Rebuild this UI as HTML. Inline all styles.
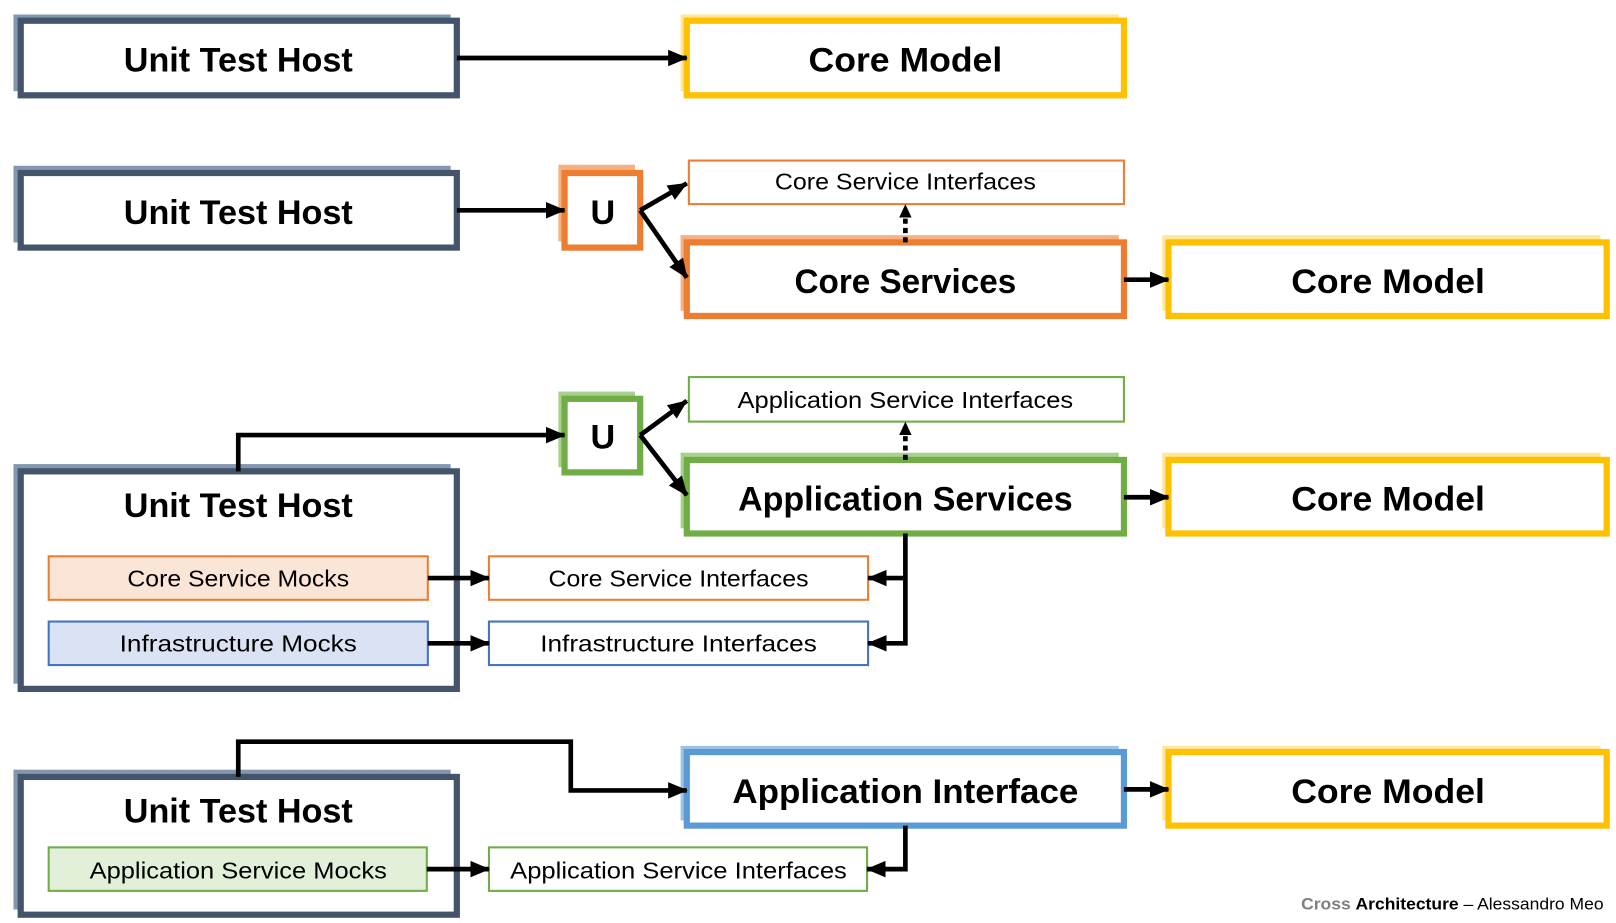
<!DOCTYPE html>
<html><head><meta charset="utf-8"><style>
html,body{margin:0;padding:0;background:#fff;}
svg{display:block;}
.b{font-family:"Liberation Sans",sans-serif;font-weight:bold;font-size:33px;fill:#000;}
.s{font-family:"Liberation Sans",sans-serif;font-size:22px;fill:#000;}
</style></head><body>
<svg width="1616" height="923" viewBox="0 0 1560 891" xmlns="http://www.w3.org/2000/svg">
<defs>
<marker id="a" markerUnits="userSpaceOnUse" markerWidth="20" markerHeight="20" refX="18" refY="10" orient="auto"><path d="M0,2 L19,10 L0,18 Z" fill="#000"/></marker>
<marker id="d" markerUnits="userSpaceOnUse" markerWidth="14" markerHeight="14" refX="12" refY="7" orient="auto"><path d="M0,1 L13,7 L0,13 Z" fill="#000"/></marker>
</defs>
<g fill="none">
<rect x="13" y="14" width="422" height="74" fill="#8497B0"/>
<rect x="20" y="20" width="421" height="72" fill="#fff" stroke="#44546A" stroke-width="6"/>
<rect x="657" y="14" width="423" height="74" fill="#FFE699"/>
<rect x="663" y="20" width="422" height="72" fill="#fff" stroke="#FFC000" stroke-width="6"/>
<rect x="13" y="160" width="422" height="74" fill="#8497B0"/>
<rect x="20" y="167" width="421" height="72" fill="#fff" stroke="#44546A" stroke-width="6"/>
<rect x="539" y="159" width="74" height="74" fill="#F4B183"/>
<rect x="545" y="167" width="73" height="72" fill="#fff" stroke="#ED7D31" stroke-width="6"/>
<rect x="665" y="155" width="420" height="42" fill="#fff" stroke="#ED7D31" stroke-width="2"/>
<rect x="657" y="227" width="423" height="73" fill="#F4B183"/>
<rect x="663" y="234" width="422" height="71" fill="#fff" stroke="#ED7D31" stroke-width="6"/>
<rect x="1122" y="227" width="423" height="73" fill="#FFE699"/>
<rect x="1128" y="234" width="423" height="71" fill="#fff" stroke="#FFC000" stroke-width="6"/>
<rect x="539" y="378" width="74" height="73" fill="#A9D18E"/>
<rect x="545" y="385" width="73" height="71" fill="#fff" stroke="#70AD47" stroke-width="6"/>
<rect x="665" y="364" width="420" height="43" fill="#fff" stroke="#70AD47" stroke-width="2"/>
<rect x="657" y="437" width="423" height="73" fill="#A9D18E"/>
<rect x="663" y="444" width="422" height="71" fill="#fff" stroke="#70AD47" stroke-width="6"/>
<rect x="1122" y="437" width="423" height="73" fill="#FFE699"/>
<rect x="1128" y="444" width="423" height="71" fill="#fff" stroke="#FFC000" stroke-width="6"/>
<rect x="13" y="448" width="422" height="212" fill="#8497B0"/>
<rect x="20" y="455" width="421" height="210" fill="#fff" stroke="#44546A" stroke-width="6"/>
<rect x="47" y="537" width="366" height="42" fill="#FBE5D6" stroke="#ED7D31" stroke-width="2"/>
<rect x="47" y="600" width="366" height="42" fill="#DAE3F3" stroke="#4472C4" stroke-width="2"/>
<rect x="472" y="537" width="366" height="42" fill="#fff" stroke="#ED7D31" stroke-width="2"/>
<rect x="472" y="600" width="366" height="42" fill="#fff" stroke="#4472C4" stroke-width="2"/>
<rect x="13" y="743" width="422" height="135" fill="#8497B0"/>
<rect x="20" y="750" width="421" height="133" fill="#fff" stroke="#44546A" stroke-width="6"/>
<rect x="47" y="818" width="365" height="42" fill="#E2F0D9" stroke="#70AD47" stroke-width="2"/>
<rect x="472" y="818" width="365" height="42" fill="#fff" stroke="#70AD47" stroke-width="2"/>
<rect x="657" y="720" width="423" height="72" fill="#9DC3E6"/>
<rect x="663" y="726" width="422" height="71" fill="#fff" stroke="#5B9BD5" stroke-width="6"/>
<rect x="1122" y="720" width="423" height="72" fill="#FFE699"/>
<rect x="1128" y="726" width="423" height="71" fill="#fff" stroke="#FFC000" stroke-width="6"/>
</g>
<g stroke="#000" stroke-width="4.5" fill="none">
<line x1="441" y1="56" x2="663" y2="56" marker-end="url(#a)"/>
<line x1="441" y1="203" x2="545" y2="203" marker-end="url(#a)"/>
<line x1="618" y1="203" x2="663" y2="268" marker-end="url(#a)"/>
<line x1="618" y1="203" x2="663" y2="177" marker-end="url(#a)"/>
<line x1="874" y1="234" x2="874" y2="198" stroke-dasharray="5,4" marker-end="url(#d)"/>
<line x1="1085" y1="270" x2="1128" y2="270" marker-end="url(#a)"/>
<polyline points="230,455 230,420 545,420" marker-end="url(#a)"/>
<line x1="618" y1="420" x2="663" y2="387" marker-end="url(#a)"/>
<line x1="618" y1="420" x2="663" y2="478" marker-end="url(#a)"/>
<line x1="874" y1="444" x2="874" y2="408" stroke-dasharray="5,4" marker-end="url(#d)"/>
<line x1="1085" y1="480" x2="1128" y2="480" marker-end="url(#a)"/>
<line x1="413" y1="558" x2="472" y2="558" marker-end="url(#a)"/>
<line x1="413" y1="621" x2="472" y2="621" marker-end="url(#a)"/>
<polyline points="874,515 874,621 838,621" marker-end="url(#a)"/>
<line x1="874" y1="558" x2="838" y2="558" marker-end="url(#a)"/>
<polyline points="230,750 230,716 551,716 551,763 663,763" marker-end="url(#a)"/>
<line x1="1085" y1="762" x2="1128" y2="762" marker-end="url(#a)"/>
<line x1="412" y1="839" x2="472" y2="839" marker-end="url(#a)"/>
<polyline points="874,797 874,839 837,839" marker-end="url(#a)"/>
</g>
<g text-anchor="middle">
<text class="b" x="230" y="69" textLength="221" lengthAdjust="spacingAndGlyphs">Unit Test Host</text>
<text class="b" x="874" y="69" textLength="187" lengthAdjust="spacingAndGlyphs">Core Model</text>
<text class="b" x="230" y="216" textLength="221" lengthAdjust="spacingAndGlyphs">Unit Test Host</text>
<text class="b" x="582" y="216">U</text>
<text class="s" x="874" y="183" textLength="252" lengthAdjust="spacingAndGlyphs">Core Service Interfaces</text>
<text class="b" x="874" y="283" textLength="214" lengthAdjust="spacingAndGlyphs">Core Services</text>
<text class="b" x="1340" y="283" textLength="187" lengthAdjust="spacingAndGlyphs">Core Model</text>
<text class="b" x="582" y="433">U</text>
<text class="s" x="874" y="394" textLength="324" lengthAdjust="spacingAndGlyphs">Application Service Interfaces</text>
<text class="b" x="874" y="493" textLength="323" lengthAdjust="spacingAndGlyphs">Application Services</text>
<text class="b" x="1340" y="493" textLength="187" lengthAdjust="spacingAndGlyphs">Core Model</text>
<text class="b" x="230" y="499" textLength="221" lengthAdjust="spacingAndGlyphs">Unit Test Host</text>
<text class="s" x="230" y="566" textLength="214" lengthAdjust="spacingAndGlyphs">Core Service Mocks</text>
<text class="s" x="230" y="629" textLength="229" lengthAdjust="spacingAndGlyphs">Infrastructure Mocks</text>
<text class="s" x="655" y="566" textLength="251" lengthAdjust="spacingAndGlyphs">Core Service Interfaces</text>
<text class="s" x="655" y="629" textLength="267" lengthAdjust="spacingAndGlyphs">Infrastructure Interfaces</text>
<text class="b" x="230" y="794" textLength="221" lengthAdjust="spacingAndGlyphs">Unit Test Host</text>
<text class="s" x="230" y="848" textLength="287" lengthAdjust="spacingAndGlyphs">Application Service Mocks</text>
<text class="s" x="655" y="848" textLength="325" lengthAdjust="spacingAndGlyphs">Application Service Interfaces</text>
<text class="b" x="874" y="775" textLength="334" lengthAdjust="spacingAndGlyphs">Application Interface</text>
<text class="b" x="1340" y="775" textLength="187" lengthAdjust="spacingAndGlyphs">Core Model</text>
</g>
<text x="1548" y="878" text-anchor="end" font-family="Liberation Sans,sans-serif" font-size="16" textLength="292" lengthAdjust="spacingAndGlyphs"><tspan fill="#7f7f7f" font-weight="bold">Cross </tspan><tspan font-weight="bold">Architecture</tspan> – Alessandro Meo</text>
</svg>
</body></html>
